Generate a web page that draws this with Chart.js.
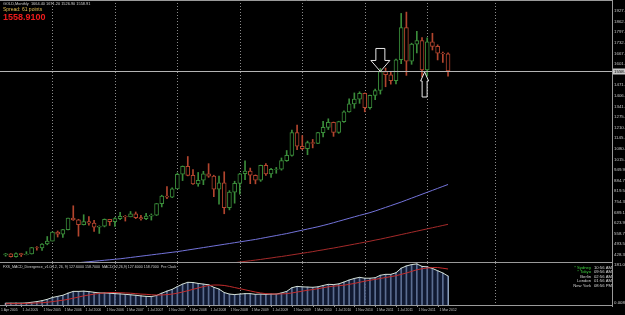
<!DOCTYPE html>
<html>
<head>
<meta charset="utf-8">
<script src="https://cdn.jsdelivr.net/npm/chart.js@4.4.1/dist/chart.umd.min.js"></script>
<style>
  html, body { margin: 0; padding: 0; background: #000; overflow: hidden; }
  #wrap { position: relative; width: 625px; height: 315px; background: #000; }
  canvas { position: absolute; left: 0; }
  #priceChart { top: 0; }
  #macdChart { top: 262px; }
</style>
</head>
<body>
<div id="wrap">
  <canvas id="priceChart" width="625" height="263"></canvas>
  <canvas id="macdChart" width="625" height="53"></canvas>
</div>
<script>
// monthly bars, Apr 2005 .. May 2012
const months = [
  'Apr 2005','May 2005','Jun 2005','Jul 2005','Aug 2005','Sep 2005','Oct 2005','Nov 2005','Dec 2005',
  'Jan 2006','Feb 2006','Mar 2006','Apr 2006','May 2006','Jun 2006','Jul 2006','Aug 2006','Sep 2006','Oct 2006','Nov 2006','Dec 2006',
  'Jan 2007','Feb 2007','Mar 2007','Apr 2007','May 2007','Jun 2007','Jul 2007','Aug 2007','Sep 2007','Oct 2007','Nov 2007','Dec 2007',
  'Jan 2008','Feb 2008','Mar 2008','Apr 2008','May 2008','Jun 2008','Jul 2008','Aug 2008','Sep 2008','Oct 2008','Nov 2008','Dec 2008',
  'Jan 2009','Feb 2009','Mar 2009','Apr 2009','May 2009','Jun 2009','Jul 2009','Aug 2009','Sep 2009','Oct 2009','Nov 2009','Dec 2009',
  'Jan 2010','Feb 2010','Mar 2010','Apr 2010','May 2010','Jun 2010','Jul 2010','Aug 2010','Sep 2010','Oct 2010','Nov 2010','Dec 2010',
  'Jan 2011','Feb 2011','Mar 2011','Apr 2011','May 2011','Jun 2011','Jul 2011','Aug 2011','Sep 2011','Oct 2011','Nov 2011','Dec 2011',
  'Jan 2012','Feb 2012','Mar 2012','Apr 2012','May 2012'
];
const opens = [
  427.9,435.0,417.0,435.5,429.0,433.5,473.0,470.5,495.0,
  513.0,569.0,556.0,583.0,654.0,643.0,614.0,633.0,623.0,599.0,604.0,646.0,
  632.0,651.0,665.0,662.0,680.0,657.0,650.0,666.0,672.0,743.0,789.0,783.0,
  834.0,924.0,972.0,917.0,865.0,887.0,927.0,912.0,832.0,871.0,718.0,814.0,
  868.0,927.0,943.0,918.0,887.0,979.0,926.0,954.0,955.0,1008.0,1040.0,1180.0,
  1096.0,1082.0,1118.0,1113.0,1180.0,1212.0,1244.0,1181.0,1248.0,1308.0,1357.0,1386.0,
  1421.0,1333.0,1409.0,1439.0,1556.0,1536.0,1500.0,1628.0,1826.0,1620.0,1724.0,1746.0,
  1565.0,1738.0,1710.0,1668.0,1664.4
];
const highs = [
  437.0,435.5,441.0,438.0,448.0,474.0,479.0,497.0,541.0,
  570.0,575.0,585.0,654.0,730.0,647.0,675.0,664.0,640.0,607.0,649.0,647.0,
  657.0,690.0,670.0,695.0,692.0,672.0,683.0,680.0,744.0,795.0,848.0,840.0,
  932.0,975.0,1033.0,952.0,935.0,942.0,989.0,918.0,912.0,939.0,823.0,881.0,
  930.0,1006.0,962.0,920.0,980.0,989.0,960.0,966.0,1024.0,1070.0,1195.0,1227.0,
  1162.0,1128.0,1138.0,1181.0,1249.0,1265.0,1245.0,1250.0,1314.0,1388.0,1424.0,1431.0,
  1424.0,1411.0,1447.0,1575.0,1577.0,1552.0,1632.0,1913.0,1921.0,1730.0,1803.0,1764.0,
  1763.0,1791.0,1720.0,1676.0,1671.2
];
const lows = [
  419.9,414.5,414.0,418.0,428.0,433.0,457.0,456.0,490.0,
  513.0,538.0,535.0,581.0,640.0,543.0,612.0,610.0,573.0,560.0,600.0,609.0,
  603.0,645.0,636.0,662.0,651.0,642.0,645.0,642.0,670.0,723.0,774.0,780.0,
  834.0,885.0,914.0,862.0,850.0,860.0,905.0,786.0,740.0,681.0,705.0,746.0,
  802.0,890.0,866.0,865.0,880.0,916.0,905.0,930.0,949.0,1003.0,1035.0,1075.0,
  1075.0,1044.0,1086.0,1112.0,1154.0,1199.0,1157.0,1176.0,1242.0,1306.0,1330.0,1360.0,
  1308.0,1324.0,1383.0,1417.0,1462.0,1478.0,1480.0,1604.0,1532.0,1600.0,1670.0,1523.0,
  1528.0,1688.0,1627.0,1612.0,1526.9
];
const closes = [
  435.0,417.0,435.5,429.0,433.5,473.0,470.5,495.0,513.0,
  569.0,556.0,583.0,654.0,643.0,614.0,633.0,623.0,599.0,604.0,646.0,632.0,
  651.0,665.0,662.0,680.0,657.0,650.0,666.0,672.0,743.0,789.0,783.0,834.0,
  924.0,972.0,917.0,865.0,887.0,927.0,912.0,832.0,871.0,718.0,814.0,868.0,
  927.0,943.0,918.0,887.0,979.0,926.0,954.0,955.0,1008.0,1040.0,1180.0,1096.0,
  1082.0,1118.0,1113.0,1180.0,1212.0,1244.0,1181.0,1248.0,1308.0,1357.0,1386.0,1421.0,
  1333.0,1409.0,1439.0,1556.0,1536.0,1500.0,1628.0,1826.0,1620.0,1724.0,1746.0,1565.0,
  1738.0,1710.0,1668.0,1664.0,1558.9
];
// moving averages (blue = slow, red = slower)
const maBlue = [
  338,341,344,347,350,353,356,359,362,365,
  368,371,374,377,380,383,386,389,392,395,
  398,401,404,408,412,416,420,424,428,432,
  436,440,444,448,453,458,463,468,473,478,
  483,488,493,498,503,508,513,518,523,529,
  535,541,547,553,559,566,573,580,587,594,
  601,609,617,626,635,644,653,662,671,679,
  688,698,709,720,731,742,753,765,777,789,
  801,813,825,837,849,861
];
const maRed = [
  268,270,271,273,274,276,277,279,281,282,
  284,286,288,290,292,294,296,298,300,302,
  305,307,309,312,314,317,319,322,325,328,
  331,334,337,340,343,347,350,354,357,361,
  365,368,372,376,380,384,388,392,396,400,
  405,409,414,418,423,428,433,438,443,448,
  454,459,465,470,476,482,488,494,500,506,
  512,519,525,532,539,546,553,560,567,574,
  581,588,595,602,609,616
];
// MACD(12,26,9) main (histogram) and signal
const macdMain = [
  8,8,8,8,9,12,15,19,
  25,33,38,43,52,60,
  60,61,59,56,53,53,52,50,
  49,47,45,43,40,38,37,42,
  52,61,69,81,
  92,100,99,95,92,89,
  78,70,55,48,46,48,
  50,50,47,48,47,48,48,53,
  60,76,82,80,
  79,78,80,86,91,90,
  93,101,110,117,122,118,
  118,120,131,135,135,142,
  162,172,178,181,170,
  168,161,151,141,127.6
];
const macdSignal = [
  5,6,6,6,7,8,9,10,
  12,15,18,21,25,30,
  35,40,44,48,51,53,55,55,
  54,53,52,50,48,47,45,44,
  44,46,48,52,
  57,63,69,75,81,86,
  88,88,86,82,77,72,
  67,62,57,53,50,49,48,49,
  50,53,57,61,
  65,68,72,76,80,83,
  85,87,91,95,100,105,
  109,113,117,121,125,129,
  135,141,148,155,160,
  163,165,165,162,158.7
];
const futureBars = 31;
const priceTicks = [1927.90,1862.70,1797.50,1732.30,1667.10,1601.90,1536.70,1471.50,1406.30,1341.10,
  1275.90,1210.70,1145.50,1080.30,1015.10,949.90,884.70,819.50,754.30,689.10,623.90,558.70,493.50,428.30];
const dateTickIdx = [0,3,7,11,15,19,23,27,31,35,39,43,47,51,55,59,63,67,71,75,79,83];
const dateTickText = ['1 Apr 2005','1 Jul 2005','1 Nov 2005','1 Mar 2006','1 Jul 2006','1 Nov 2006',
  '1 Mar 2007','1 Jul 2007','1 Nov 2007','1 Mar 2008','1 Jul 2008','1 Nov 2008','1 Mar 2009',
  '1 Jul 2009','1 Nov 2009','1 Mar 2010','1 Jul 2010','1 Nov 2010','1 Mar 2011','1 Jul 2011',
  '1 Nov 2011','1 Mar 2012'];
const gridIdx = [9,21,33,45,57,69,81,94];
const lastPrice = 1558.91;
const yMin = 378.1, yMax = 1995.6;
const macdMax = 185;

const upColor = '#3a8c3a', downColor = '#b3452e';
const font = '"Liberation Sans", Arial, sans-serif';
const labels = months.concat(Array(futureBars).fill(''));
const candleColors = opens.map((o, i) => closes[i] >= o ? upColor : downColor);

function dottedGrid(chart) {
  const ctx = chart.ctx, a = chart.chartArea, xs = chart.scales.x;
  ctx.save();
  ctx.strokeStyle = '#8a8a8a';
  ctx.lineWidth = 1;
  ctx.setLineDash([1, 2]);
  gridIdx.forEach(i => {
    const x = Math.round(xs.getPixelForValue(i)) + 0.5;
    ctx.beginPath(); ctx.moveTo(x, a.top); ctx.lineTo(x, a.bottom); ctx.stroke();
  });
  ctx.restore();
}

function arrow(ctx, x, y, dir, headW, headH, shaftW, shaftH) {
  const s = dir === 'down' ? -1 : 1;
  ctx.beginPath();
  ctx.moveTo(x, y);
  ctx.lineTo(x - headW, y + s * headH);
  ctx.lineTo(x - shaftW, y + s * headH);
  ctx.lineTo(x - shaftW, y + s * (headH + shaftH));
  ctx.lineTo(x + shaftW, y + s * (headH + shaftH));
  ctx.lineTo(x + shaftW, y + s * headH);
  ctx.lineTo(x + headW, y + s * headH);
  ctx.closePath();
  ctx.stroke();
}

const priceDeco = {
  id: 'priceDeco',
  beforeDatasetsDraw(chart) { dottedGrid(chart); },
  afterDatasetsDraw(chart) {
    const ctx = chart.ctx, a = chart.chartArea, xs = chart.scales.x, ys = chart.scales.y;
    ctx.save();
    // current price line
    const py = Math.round(ys.getPixelForValue(lastPrice)) + 0.5;
    ctx.strokeStyle = '#b4b4b4'; ctx.lineWidth = 1;
    ctx.beginPath(); ctx.moveTo(0, py); ctx.lineTo(a.right, py); ctx.stroke();
    // arrows
    ctx.strokeStyle = '#e6e6e6';
    arrow(ctx, xs.getPixelForValue(72), ys.getPixelForValue(closes[72]), 'down', 9.5, 11, 4.5, 12);
    arrow(ctx, xs.getPixelForValue(80.5), ys.getPixelForValue(closes[80]) + 2, 'up', 4, 9, 2.5, 16);
    // frame
    ctx.strokeStyle = '#9a9a9a';
    ctx.beginPath(); ctx.moveTo(0, 0.5); ctx.lineTo(a.right + 0.5, 0.5); ctx.stroke();
    ctx.beginPath(); ctx.moveTo(a.right + 0.5, 0); ctx.lineTo(a.right + 0.5, chart.height); ctx.stroke();
    // price labels
    ctx.font = '4.4px ' + font;
    ctx.fillStyle = '#c4c4c4';
    ctx.textBaseline = 'middle'; ctx.textAlign = 'left';
    priceTicks.forEach(v => {
      const y = ys.getPixelForValue(v);
      if (Math.abs(y - py) < 5) return;
      ctx.fillText(v.toFixed(2), a.right + 2, y);
    });
    ctx.fillStyle = '#c8c8c8';
    ctx.fillRect(a.right + 1, py - 3, 13, 6);
    ctx.fillStyle = '#000';
    ctx.fillText(lastPrice.toFixed(2), a.right + 2, py);
    // header texts
    ctx.textBaseline = 'top';
    ctx.fillStyle = '#cfcfcf';
    ctx.font = '3.9px ' + font;
    ctx.fillText('GOLD,Monthly  ' + opens[85].toFixed(2) + ' ' + highs[85].toFixed(2) + ' ' +
      lows[85].toFixed(2) + ' ' + lastPrice.toFixed(2), 3, 1.5);
    ctx.fillStyle = '#e2bd52';
    ctx.font = '5px ' + font;
    ctx.fillText('Spread: 61 points', 3, 7.5);
    ctx.fillStyle = '#f01c1c';
    ctx.font = 'bold 9px ' + font;
    ctx.fillText(lastPrice.toFixed(4), 3, 13);
    ctx.restore();
  }
};

new Chart(document.getElementById('priceChart'), {
  type: 'bar',
  data: {
    labels: labels,
    datasets: [{
      type: 'line', data: maBlue, borderColor: '#7373da', borderWidth: 1,
      pointRadius: 0, tension: 0, order: 0
    }, {
      type: 'line', data: maRed, borderColor: '#a42a2a', borderWidth: 1,
      pointRadius: 0, tension: 0, order: 0
    }, {
      // bodies
      data: opens.map((o, i) => [o, closes[i]]),
      backgroundColor: '#000', borderColor: candleColors, borderWidth: 1,
      borderSkipped: false, barThickness: 4, grouped: false, order: 1
    }, {
      // wicks
      data: lows.map((l, i) => [l, highs[i]]),
      backgroundColor: candleColors, borderWidth: 0,
      barThickness: 1, grouped: false, order: 2
    }]
  },
  options: {
    responsive: false, animation: false, events: [],
    layout: { padding: { left: 3, right: 13, top: 0, bottom: 0 } },
    plugins: { legend: { display: false }, tooltip: { enabled: false } },
    scales: {
      x: { display: false, offset: true },
      y: { display: false, min: yMin, max: yMax }
    }
  },
  plugins: [priceDeco]
});

const clockNames = ['* Sydney', '* Tokyo', 'Berlin', 'London', 'New York'];
const clockTimes = ['10:56 AM', '09:56 AM', '02:56 AM', '01:56 AM', '08:56 PM'];
const clockColors = ['#3fd23f', '#3fd23f', '#cfcfcf', '#cfcfcf', '#cfcfcf'];

const macdDeco = {
  id: 'macdDeco',
  beforeDatasetsDraw(chart) { dottedGrid(chart); },
  afterDatasetsDraw(chart) {
    const ctx = chart.ctx, a = chart.chartArea, xs = chart.scales.x, ys = chart.scales.y;
    ctx.save();
    ctx.strokeStyle = '#9a9a9a'; ctx.lineWidth = 1;
    ctx.beginPath(); ctx.moveTo(0, 0.5); ctx.lineTo(a.right + 0.5, 0.5); ctx.stroke();
    ctx.beginPath(); ctx.moveTo(0, a.bottom + 0.5); ctx.lineTo(a.right + 0.5, a.bottom + 0.5); ctx.stroke();
    ctx.beginPath(); ctx.moveTo(a.right + 0.5, 0); ctx.lineTo(a.right + 0.5, a.bottom + 2); ctx.stroke();
    ctx.textAlign = 'left'; ctx.textBaseline = 'top';
    ctx.fillStyle = '#cfcfcf';
    ctx.font = '3.6px ' + font;
    ctx.fillText('FXS_MACD_Divergence_v1.0(12, 26, 9) ' + macdMain[85].toFixed(4) + ' ' +
      macdSignal[85].toFixed(4) + '  MACD(12,26,9) ' + macdMain[85].toFixed(4) + ' ' +
      macdSignal[85].toFixed(4) + '  Pre Clock', 3, 3);
    ctx.font = '4.4px ' + font;
    ctx.textBaseline = 'middle';
    ctx.fillText('181.03', a.right + 2, ys.getPixelForValue(181) + 1);
    ctx.fillText('0.0081', a.right + 2, ys.getPixelForValue(0) - 2);
    // clocks
    ctx.font = '4.2px ' + font;
    clockNames.forEach((n, i) => {
      const y = 5.5 + i * 4.6;
      ctx.textAlign = 'right'; ctx.fillStyle = clockColors[i];
      ctx.fillText(n, 591, y);
      ctx.textAlign = 'left'; ctx.fillStyle = '#d8d8d8';
      ctx.fillText(clockTimes[i], 594, y);
    });
    // date axis
    ctx.font = '3.4px ' + font;
    ctx.fillStyle = '#c4c4c4';
    ctx.textAlign = 'left'; ctx.textBaseline = 'middle';
    ctx.strokeStyle = '#9a9a9a';
    dateTickIdx.forEach((idx, k) => {
      const x = Math.round(xs.getPixelForValue(idx)) + 0.5;
      ctx.beginPath(); ctx.moveTo(x, a.bottom); ctx.lineTo(x, a.bottom + 2); ctx.stroke();
      // first label sits at the left edge of the pane
      ctx.fillText(dateTickText[k], k === 0 ? 1 : x + 1, a.bottom + 5);
    });
    ctx.restore();
  }
};

new Chart(document.getElementById('macdChart'), {
  type: 'bar',
  data: {
    labels: labels,
    datasets: [{
      type: 'line', data: macdSignal, borderColor: '#c42c2c', borderWidth: 1,
      pointRadius: 0, tension: 0, order: 0
    }, {
      type: 'line', data: macdMain, borderColor: '#d6e2d6', borderWidth: 1,
      pointRadius: 0, tension: 0, order: 1,
      fill: 'origin', backgroundColor: 'rgba(30,45,90,0.55)'
    }, {
      data: macdMain, backgroundColor: '#a7bbd6', borderWidth: 0,
      barThickness: 1, grouped: false, order: 2
    }]
  },
  options: {
    responsive: false, animation: false, events: [],
    layout: { padding: { left: 3, right: 13, top: 1, bottom: 10 } },
    plugins: { legend: { display: false }, tooltip: { enabled: false }, filler: { propagate: false } },
    scales: {
      x: { display: false, offset: true },
      y: { display: false, min: 0, max: macdMax }
    }
  },
  plugins: [macdDeco]
});
</script>
</body>
</html>
